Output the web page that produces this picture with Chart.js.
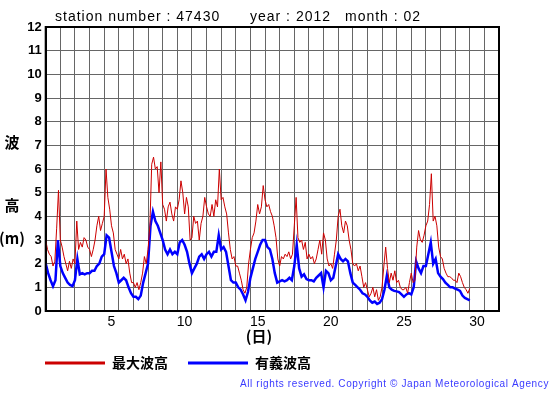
<!DOCTYPE html>
<html>
<head>
<meta charset="utf-8">
<script src="https://cdn.jsdelivr.net/npm/chart.js@4.4.1/dist/chart.umd.min.js"></script>
<style>
  html, body { margin: 0; padding: 0; background: #fff; }
  #waveChart { display: block; }
</style>
</head>
<body>
<canvas id="waveChart" width="555" height="395"></canvas>
<script>
// 波高グラフ 2012年2月 (1日 0時から)
const stationNo = '47430';
const year = '2012';
const month = '02';
const maxStepHours = 3;   // 最大波高は3時間ごと
const sigStepHours = 4;   // 有義波高は4時間ごと
const dayTicks = [5, 10, 15, 20, 25, 30];
const seriesNames = ['最大波高', '有義波高'];

const maxWave = [
  3.0, 2.6, 2.4, 2.3, 1.9, 2.1, 3.5, 5.1,   // 1日
  3.0, 2.7, 2.3, 2.0, 1.7, 2.1, 1.8, 2.2,
  2.0, 3.8, 2.6, 2.9, 2.7, 3.1, 3.0, 2.7,
  2.6, 2.3, 2.6, 3.0, 3.6, 4.0, 3.4, 3.7,
  4.0, 6.0, 4.8, 4.3, 3.6, 3.3, 2.6, 2.4,   // 5日
  2.2, 2.6, 2.2, 2.4, 2.0, 2.2, 1.6, 1.2,
  1.2, 1.0, 1.2, 0.9, 1.2, 1.6, 2.3, 2.0,
  2.6, 3.6, 6.2, 6.5, 6.0, 6.1, 5.0, 6.3,
  4.5, 4.3, 3.8, 4.4, 4.6, 4.1, 3.8, 4.4,
  4.3, 4.7, 5.5, 5.0, 4.1, 4.8, 4.4, 3.0,   // 10日
  3.1, 4.0, 3.7, 3.8, 3.0, 3.7, 4.0, 4.8,
  4.4, 4.1, 4.0, 4.5, 4.0, 4.7, 4.4, 6.0,
  4.7, 4.8, 4.4, 4.1, 3.3, 2.6, 2.2, 2.3,
  1.9, 1.9, 1.6, 1.3, 0.9, 0.75, 1.0, 2.0,
  2.6, 3.1, 3.3, 3.8, 4.5, 4.1, 4.4, 5.3,   // 15日
  4.7, 4.4, 4.5, 4.2, 4.0, 3.6, 3.1, 2.2,
  1.9, 2.3, 2.2, 2.4, 2.3, 2.5, 2.2, 2.4,
  3.6, 4.8, 3.1, 2.9, 3.0, 2.6, 2.9, 2.2,
  2.4, 2.2, 2.3, 2.0, 2.2, 2.6, 3.0, 2.4,
  3.3, 3.0, 2.2, 1.9, 2.0, 1.8, 2.4, 3.0,   // 20日
  4.0, 4.3, 3.6, 3.3, 3.8, 3.6, 3.0, 2.6,
  2.0, 1.9, 2.0, 1.7, 1.9, 1.45, 1.0, 1.2,
  0.9, 0.6, 0.75, 1.0, 0.6, 0.9, 0.45, 0.6,
  1.0, 1.9, 2.7, 1.8, 1.2, 1.6, 1.3, 1.7,
  1.2, 1.3, 1.0, 0.9, 0.9, 1.0, 0.75, 1.2,  // 25日
  1.6, 1.2, 1.3, 2.7, 3.4, 3.0, 2.9, 3.2,
  3.6, 3.8, 4.5, 5.8, 3.8, 4.0, 3.6, 2.7,
  2.3, 2.2, 1.8, 1.6, 1.45, 1.45, 1.4, 1.3,
  1.3, 1.2, 1.6, 1.45, 1.2, 1.0, 0.9, 0.75,
  0.95
];

const sigWave = [
  2.0, 1.6, 1.3, 1.05, 1.3, 3.0,  // 1日
  1.9, 1.6, 1.4, 1.2, 1.1, 1.05,
  1.3, 2.2, 1.55, 1.6, 1.55, 1.6,
  1.6, 1.7, 1.7, 1.9, 2.0, 2.3,
  2.4, 3.2, 3.1, 2.5, 1.9, 1.6,   // 5日
  1.2, 1.3, 1.4, 1.3, 1.0, 0.75,
  0.6, 0.6, 0.5, 0.65, 1.2, 1.6,
  2.0, 3.6, 4.2, 3.8, 3.6, 3.3,
  3.0, 2.6, 2.4, 2.6, 2.4, 2.5,
  2.4, 2.9, 3.0, 2.8, 2.5, 2.0,   // 10日
  1.6, 1.8, 2.0, 2.3, 2.4, 2.2,
  2.4, 2.5, 2.3, 2.5, 2.5, 3.2,
  2.6, 2.7, 2.5, 1.9, 1.3, 1.2,
  1.2, 1.0, 0.9, 0.7, 0.45, 0.8,
  1.4, 1.8, 2.2, 2.5, 2.8, 3.0,   // 15日
  3.0, 2.7, 2.6, 2.2, 1.6, 1.2,
  1.25, 1.3, 1.25, 1.3, 1.4, 1.3,
  1.9, 2.8, 1.8, 1.45, 1.55, 1.35,
  1.3, 1.3, 1.25, 1.4, 1.5, 1.6,
  1.0, 1.7, 1.6, 1.3, 1.4, 1.9,   // 20日
  2.4, 2.2, 2.1, 2.2, 2.1, 1.6,
  1.2, 1.1, 1.0, 0.9, 0.75, 0.7,
  0.6, 0.45, 0.35, 0.4, 0.3, 0.35,
  0.5, 0.9, 1.5, 1.0, 0.9, 0.85,
  0.83, 0.8, 0.7, 0.6, 0.7, 0.75, // 25日
  0.7, 1.0, 2.1, 1.8, 1.6, 1.9,
  1.9, 2.4, 2.9, 2.0, 2.2, 1.6,
  1.45, 1.35, 1.2, 1.1, 1.0, 1.0,
  0.95, 0.9, 0.85, 0.65, 0.55, 0.5,
  0.45
];

// 値を (日数, 波高) の点にする
const toPoints = (arr, stepH) => arr.map((v, i) => ({ x: i * stepH / 24, y: v }));

// タイトルや軸ラベルなど、Chart.jsで描きにくい文字
const extraText = {
  id: 'extraText',
  beforeDraw(chart) {
    const c = chart.ctx;
    c.save();
    c.fillStyle = '#fff';
    c.fillRect(0, 0, chart.width, chart.height);
    c.restore();
  },
  afterDraw(chart) {
    const c = chart.ctx;
    const a = chart.chartArea;
    c.save();
    c.strokeStyle = '#000';
    c.lineWidth = 2;
    c.strokeRect(a.left, a.top, a.right - a.left, a.bottom - a.top);

    c.fillStyle = '#000';
    c.textBaseline = 'middle';
    c.textAlign = 'left';
    c.font = '14px "Liberation Sans"';
    c.letterSpacing = '1px';
    c.fillText('station number : ' + stationNo, 55, 17);
    c.fillText('year : ' + year, 250, 17);
    c.fillText('month : ' + month, 345, 17);

    c.letterSpacing = '0px';
    c.textAlign = 'center';
    c.font = 'bold 15px "Noto Sans CJK JP"';
    c.fillText('波', 12, 142);
    c.fillText('高', 12, 205);
    c.fillText('(m)', 12, 238);
    c.fillText('(日)', 259, 336);

    // 著作権表示: 幅に合わせて字間を広げる
    const copy = 'All rights reserved. Copyright \u00a9 Japan Meteorological Agency';
    c.font = '10px "Liberation Sans"';
    c.textAlign = 'left';
    const w = c.measureText(copy).width;
    c.letterSpacing = ((309 - w) / copy.length) + 'px';
    c.fillStyle = '#3a3aff';
    c.fillText(copy, 240, 384);
    c.restore();
  }
};

const ctx = document.getElementById('waveChart').getContext('2d');
const waveChart = new Chart(ctx, {
  type: 'line',
  data: {
    datasets: [
      {
        label: seriesNames[0],
        data: toPoints(maxWave, maxStepHours),
        borderColor: '#cc0000',
        backgroundColor: '#cc0000',
        borderWidth: 1,
        pointRadius: 0,
        tension: 0
      },
      {
        label: seriesNames[1],
        data: toPoints(sigWave, sigStepHours),
        borderColor: '#0000ff',
        backgroundColor: '#0000ff',
        borderWidth: 2.5,
        pointRadius: 0,
        tension: 0
      }
    ]
  },
  options: {
    responsive: false,
    animation: false,
    layout: { padding: { top: 27, left: 25, right: 56, bottom: 15 } },
    scales: {
      x: {
        type: 'linear',
        min: 0,
        max: 31,
        afterFit: s => { s.height = 25; },
        grid: { color: '#666', lineWidth: 1, drawTicks: false },
        border: { color: '#000', width: 2 },
        ticks: {
          stepSize: 1,
          autoSkip: false,
          maxRotation: 0,
          padding: 3,
          labelOffset: 7.31,
          color: '#000',
          font: { family: 'Liberation Sans', size: 14 },
          callback: v => dayTicks.includes(v + 1) ? String(v + 1) : ''
        }
      },
      y: {
        min: 0,
        max: 12,
        afterFit: s => { s.width = 20.7; },
        grid: { color: '#666', lineWidth: 1, drawTicks: false },
        border: { color: '#000', width: 2 },
        ticks: {
          stepSize: 1,
          padding: 4,
          color: '#000',
          font: { family: 'Liberation Sans', size: 13, weight: 'bold' }
        }
      }
    },
    plugins: {
      legend: {
        position: 'bottom',
        align: 'start',
        labels: {
          boxWidth: 60,
          boxHeight: 3,
          padding: 20,
          color: '#000',
          font: { family: 'Noto Sans CJK JP', size: 14, weight: 'bold' },
          generateLabels: chart =>
            Chart.defaults.plugins.legend.labels.generateLabels(chart)
              .map(l => ({ ...l, lineWidth: 0, fillStyle: l.strokeStyle }))
        }
      },
      tooltip: { enabled: false }
    }
  },
  plugins: [extraText]
});
</script>
</body>
</html>
